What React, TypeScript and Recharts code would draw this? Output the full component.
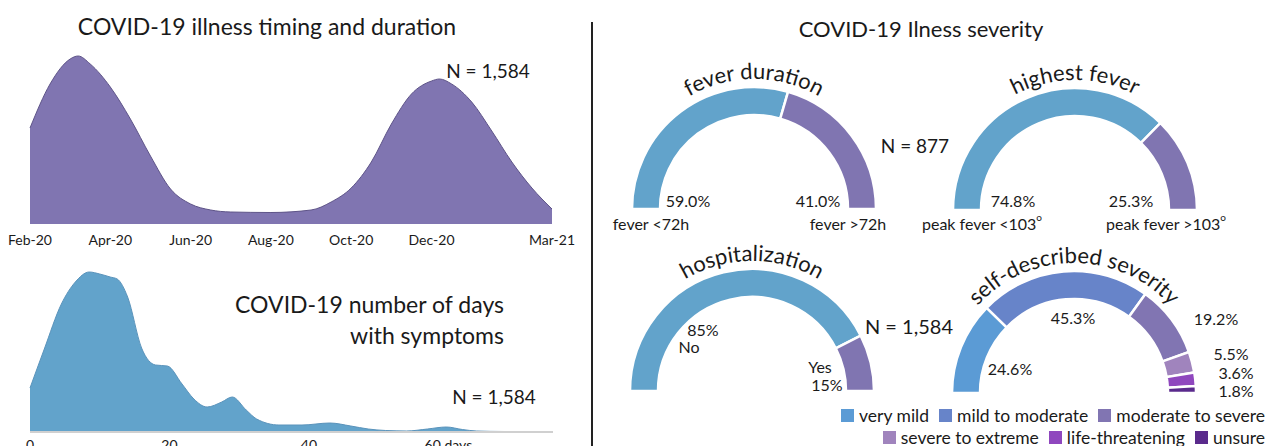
import React from 'react';
import { AreaChart, Area, XAxis, YAxis, PieChart, Pie, Cell } from 'recharts';

const FONT = 'Lato, "Open Sans", sans-serif';
const INK = '#1a1a1a';

// illness onset over time (x = months since Feb-20)
const timingMonths = [0, 0.5, 1, 1.2, 1.5, 2, 2.5, 3, 3.5, 4, 4.5, 5, 6, 7, 7.5, 8, 8.5, 9, 9.5, 10, 10.2, 10.5, 11, 11.5, 12, 12.5, 13];
const timingValues = [96, 140, 165, 168, 160, 137, 105, 68, 35, 20, 14, 12, 11.5, 14, 22, 36, 62, 100, 130, 143, 145, 140, 122, 93, 62, 36, 15];
const timingTicks = [0, 2, 4, 6, 8, 10, 13];
const timingTickLabels = ['Feb-20', 'Apr-20', 'Jun-20', 'Aug-20', 'Oct-20', 'Dec-20', 'Mar-21'];

// number of days with symptoms
const symptomDays = [0, 2, 4.5, 6.5, 8.5, 10, 11.5, 12.5, 14, 16, 18, 19.7, 21.8, 23.5, 25.4, 27.5, 29, 31, 32.5, 35.7, 39, 43, 46, 48.5, 51, 54, 57, 59.7, 62, 64, 68, 75];
const symptomValues = [44, 82, 128, 150, 160, 158, 155, 153, 135, 84, 67, 66, 48, 33, 25, 30, 35, 22, 13, 7, 7, 9, 6, 3, 1.5, 1, 3, 5, 2.5, 1, 0.5, 0.5];
const symptomTicks = [0, 20, 40, 60];
const symptomTickLabels = ['0', '20', '40', '60 days'];

// gauges
const feverDurationNames = ['fever <72h', 'fever >72h'];
const feverDurationValues = [59.0, 41.0];
const feverDurationPct = ['59.0%', '41.0%'];

const highestFeverNames = ['peak fever <103º', 'peak fever >103º'];
const highestFeverValues = [74.8, 25.3];
const highestFeverPct = ['74.8%', '25.3%'];

const hospitalNames = ['No', 'Yes'];
const hospitalValues = [85, 15];
const hospitalPct = ['85%', '15%'];

const severityNames = ['very mild', 'mild to moderate', 'moderate to severe', 'severe to extreme', 'life-threatening', 'unsure'];
const severityValues = [24.6, 45.3, 19.2, 5.5, 3.6, 1.8];
const severityPct = ['24.6%', '45.3%', '19.2%', '5.5%', '3.6%', '1.8%'];

const BLUE = '#62a3cb';
const PURPLE = '#8075b1';
const severityColors = ['#5b9bd5', '#6784c9', '#8175b2', '#a084bd', '#8f47be', '#5a2a8c'];

const timingData = timingMonths.map((m, i) => ({ m, v: timingValues[i] }));
const symptomData = symptomDays.map((d, i) => ({ d, v: symptomValues[i] }));

const GW = 360;
const GH = 210;
const GCX = 180;
const GCY = 165;
const R_OUT = 122;
const R_IN = 94;

type Spot = { text: string; dx: number; dy: number };

const renderName = (s: string) => {
  if (s.endsWith('º')) {
    return (
      <>
        {s.slice(0, -1)}
        <tspan fontSize={10} dy={-6}>o</tspan>
      </>
    );
  }
  return s;
};

const Gauge = ({
  id,
  cx,
  cy,
  title,
  values,
  colors,
  spots,
}: {
  id: string;
  cx: number;
  cy: number;
  title: string;
  values: number[];
  colors: string[];
  spots: Spot[];
}) => {
  const data = values.map((v, i) => ({ name: String(i), value: v }));
  const tr = R_OUT + 8;
  return (
    <div style={{ position: 'absolute', left: cx - GCX, top: cy - GCY, width: GW, height: GH }}>
      <PieChart width={GW} height={GH} margin={{ top: 0, right: 0, bottom: 0, left: 0 }}>
        <Pie
          data={data}
          dataKey="value"
          cx={GCX}
          cy={GCY}
          startAngle={180}
          endAngle={0}
          innerRadius={R_IN}
          outerRadius={R_OUT}
          stroke="#ffffff"
          strokeWidth={2.5}
          isAnimationActive={false}
        >
          {data.map((d, i) => (
            <Cell key={d.name} fill={colors[i]} />
          ))}
        </Pie>
      </PieChart>
      <svg width={GW} height={GH} style={{ position: 'absolute', left: 0, top: 0, pointerEvents: 'none' }}>
        <defs>
          <path id={id} d={`M ${GCX - tr},${GCY} A ${tr},${tr} 0 0 1 ${GCX + tr},${GCY}`} fill="none" />
        </defs>
        <text fontFamily={FONT} fontSize={22} fill={INK}>
          <textPath href={`#${id}`} startOffset="50%" textAnchor="middle">
            {title}
          </textPath>
        </text>
        {spots.map((s, i) => (
          <text
            key={i}
            x={GCX + s.dx}
            y={GCY + s.dy}
            textAnchor="middle"
            dominantBaseline="central"
            fontFamily={FONT}
            fontSize={16}
            fill={INK}
          >
            {renderName(s.text)}
          </text>
        ))}
      </svg>
    </div>
  );
};

const LegendRow = ({ from, to, top }: { from: number; to: number; top: number }) => (
  <div
    style={{
      position: 'absolute',
      right: 2,
      top,
      height: 22,
      display: 'flex',
      alignItems: 'center',
      fontFamily: FONT,
      fontSize: 17.5,
      color: INK,
      whiteSpace: 'nowrap',
    }}
  >
    {severityNames.slice(from, to).map((n, k) => (
      <div key={n} style={{ display: 'flex', alignItems: 'center', marginLeft: k === 0 ? 0 : 10 }}>
        <span style={{ width: 13, height: 13, background: severityColors[from + k], marginRight: 5 }} />
        <span>{n}</span>
      </div>
    ))}
  </div>
);

const App = () => {
  const tickStyle = { fontSize: 14, fill: INK, fontFamily: FONT };
  return (
    <div
      style={{
        position: 'absolute',
        left: 0,
        top: 0,
        width: 1267,
        height: 446,
        overflow: 'hidden',
        background: '#ffffff',
        fontFamily: FONT,
      }}
    >
      <div style={{ position: 'absolute', left: 0, top: 0 }}>
        <AreaChart width={596} height={260} data={timingData} margin={{ top: 54, right: 44, bottom: 0, left: 30 }}>
          <XAxis
            dataKey="m"
            type="number"
            domain={[0, 13]}
            ticks={timingTicks}
            interval={0}
            tickFormatter={(v: number) => timingTickLabels[timingTicks.indexOf(v)]}
            axisLine={false}
            tickLine={false}
            tickSize={0}
            tickMargin={11}
            height={36}
            tick={tickStyle}
          />
          <YAxis hide domain={[0, 170]} />
          <Area
            type="monotone"
            dataKey="v"
            fill={PURPLE}
            fillOpacity={1}
            stroke="#5e5488"
            strokeWidth={1}
            isAnimationActive={false}
          />
        </AreaChart>
      </div>

      <div style={{ position: 'absolute', left: 0, top: 250 }}>
        <AreaChart width={596} height={210} data={symptomData} margin={{ top: 17, right: 43, bottom: 0, left: 30 }}>
          <XAxis
            dataKey="d"
            type="number"
            domain={[0, 75]}
            ticks={symptomTicks}
            interval={0}
            tickFormatter={(v: number) => symptomTickLabels[symptomTicks.indexOf(v)]}
            axisLine={{ stroke: '#d0d0d0', strokeWidth: 2 }}
            tickLine={false}
            tickSize={0}
            tickMargin={8}
            height={28}
            tick={tickStyle}
          />
          <YAxis hide domain={[0, 165]} />
          <Area
            type="monotone"
            dataKey="v"
            fill={BLUE}
            fillOpacity={1}
            stroke="#5a93bb"
            strokeWidth={1}
            isAnimationActive={false}
          />
        </AreaChart>
      </div>

      <div style={{ position: 'absolute', left: 591, top: 22, width: 2, height: 424, background: '#222' }} />

      <Gauge
        id="fever-duration"
        cx={754}
        cy={209}
        title="fever duration"
        values={feverDurationValues}
        colors={[BLUE, PURPLE]}
        spots={[
          { text: feverDurationPct[0], dx: -66, dy: -9 },
          { text: feverDurationPct[1], dx: 64, dy: -9 },
          { text: feverDurationNames[0], dx: -103, dy: 14 },
          { text: feverDurationNames[1], dx: 94, dy: 14 },
        ]}
      />
      <Gauge
        id="highest-fever"
        cx={1075}
        cy={210}
        title="highest fever"
        values={highestFeverValues}
        colors={[BLUE, PURPLE]}
        spots={[
          { text: highestFeverPct[0], dx: -62, dy: -10 },
          { text: highestFeverPct[1], dx: 56, dy: -10 },
          { text: highestFeverNames[0], dx: -93, dy: 13 },
          { text: highestFeverNames[1], dx: 91, dy: 13 },
        ]}
      />
      <Gauge
        id="hospitalization"
        cx={752}
        cy={391}
        title="hospitalization"
        values={hospitalValues}
        colors={[BLUE, PURPLE]}
        spots={[
          { text: hospitalPct[0], dx: -49, dy: -62 },
          { text: hospitalNames[0], dx: -63, dy: -45 },
          { text: hospitalNames[1], dx: 68, dy: -25 },
          { text: hospitalPct[1], dx: 75, dy: -7 },
        ]}
      />
      <Gauge
        id="severity"
        cx={1074}
        cy={393}
        title="self-described severity"
        values={severityValues}
        colors={severityColors}
        spots={[
          { text: severityPct[0], dx: -64, dy: -25 },
          { text: severityPct[1], dx: -1, dy: -76 },
          { text: severityPct[2], dx: 142, dy: -75 },
          { text: severityPct[3], dx: 157, dy: -40 },
          { text: severityPct[4], dx: 162, dy: -21 },
          { text: severityPct[5], dx: 162, dy: -3 },
        ]}
      />

      <LegendRow from={0} to={3} top={404} />
      <LegendRow from={3} to={6} top={426} />

      <svg width={1267} height={446} style={{ position: 'absolute', left: 0, top: 0, pointerEvents: 'none' }}>
        <g fontFamily={FONT} fill={INK}>
          <text x={267} y={35} fontSize={23} textAnchor="middle">COVID-19 illness timing and duration</text>
          <text x={488} y={78} fontSize={19} textAnchor="middle">N = 1,584</text>
          <text x={504} y={313} fontSize={23} textAnchor="end">COVID-19 number of days</text>
          <text x={504} y={344} fontSize={23} textAnchor="end">with symptoms</text>
          <text x={494} y={404} fontSize={19} textAnchor="middle">N = 1,584</text>
          <text x={921} y={37} fontSize={22} textAnchor="middle">COVID-19 Ilness severity</text>
          <text x={915} y={153} fontSize={19} textAnchor="middle">N = 877</text>
          <text x={909} y={334} fontSize={20} textAnchor="middle">N = 1,584</text>
        </g>
      </svg>
    </div>
  );
};

export default App;
